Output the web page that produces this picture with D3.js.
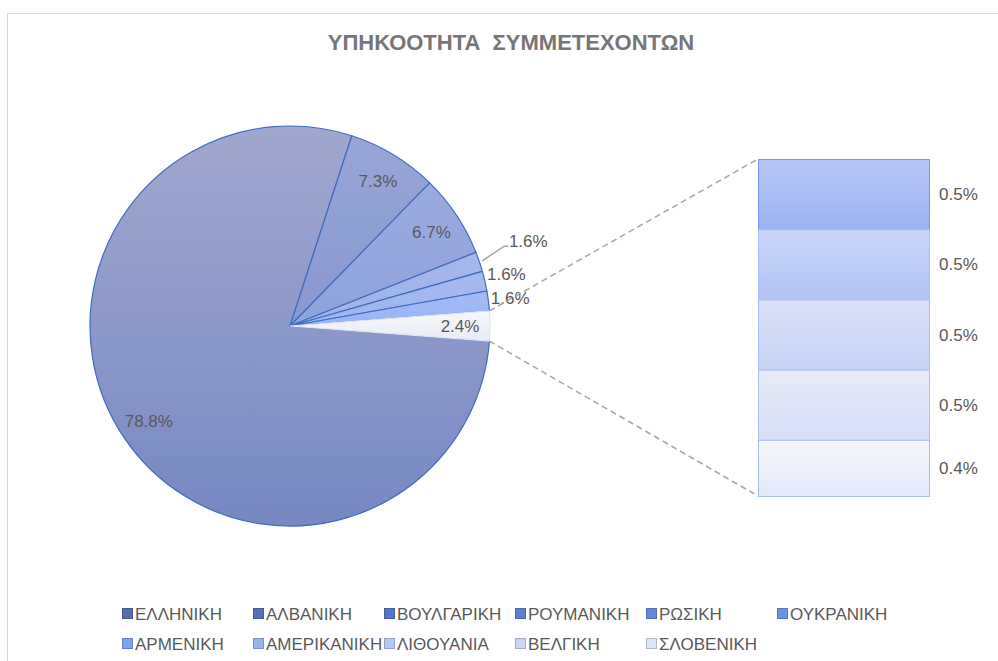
<!DOCTYPE html>
<html>
<head>
<meta charset="utf-8">
<script src="https://cdnjs.cloudflare.com/ajax/libs/d3/7.8.5/d3.min.js"></script>
<style>
  body { margin:0; background:#fff; }
  svg text { font-family: "Liberation Sans", Arial, sans-serif; }
</style>
</head>
<body>
<div class="svg-container"></div>
<script>
//data
const pieNames = ['ΕΛΛΗΝΙΚΗ','ΑΛΒΑΝΙΚΗ','ΒΟΥΛΓΑΡΙΚΗ','ΡΟΥΜΑΝΙΚΗ','ΡΩΣΙΚΗ','ΟΥΚΡΑΝΙΚΗ'];
const pieValues = [78.8, 7.3, 6.7, 1.6, 1.6, 1.6];
const barNames = ['ΑΡΜΕΝΙΚΗ','ΑΜΕΡΙΚΑΝΙΚΗ','ΛΙΘΟΥΑΝΙΑ','ΒΕΛΓΙΚΗ','ΣΛΟΒΕΝΙΚΗ'];
const barValues = [0.5, 0.5, 0.5, 0.5, 0.4];
const otherValue = 2.4;
const title = 'ΥΠΗΚΟΟΤΗΤΑ  ΣΥΜΜΕΤΕΧΟΝΤΩΝ';

//colours (top, bottom of gradient)
const pieColors = [['#a1a8cf','#7788c2'],['#98a6d6','#8797d0'],['#9babdf','#8ea2dc'],
                   ['#a6b8ea','#9fb3e8'],['#a6baef','#9db5ee'],['#a2bcf6','#97b4f5']];
const otherColor = ['#f8f8fc','#e8ebf5'];
const barColors = [['#b7c6f5','#9cb4f5'],['#c9d4f7','#b2c4f5'],['#dae1f8','#c6d3f6'],
                   ['#e8ebf8','#d6dff7'],['#f5f6fb','#e2e8f7']];
const legendColors = ['#5b6eab','#5870b6','#5477c9','#5a80d4','#6389dc','#6b93e6',
                      '#7fa2ec','#99b3f0','#b4c6f2','#cbd6f4','#dfe6f6'];

const width = 998, height = 661;
const cx = 290, cy = 326, R = 200;
const labelColor = '#595959';
const fs = 17;

const svg = d3.select('.svg-container').append('svg')
    .attr('width', width).attr('height', height);

//chart border
svg.append('rect')
    .attr('x', 7.5).attr('y', 13.5)
    .attr('width', width + 20).attr('height', height + 20)
    .attr('fill', '#fff').attr('stroke', '#d9d9d9');

const defs = svg.append('defs');
function grad(id, c) {
    const g = defs.append('linearGradient').attr('id', id)
        .attr('x1', 0).attr('y1', 0).attr('x2', 0).attr('y2', 1);
    g.append('stop').attr('offset', '0%').attr('stop-color', c[0]);
    g.append('stop').attr('offset', '100%').attr('stop-color', c[1]);
    return `url(#${id})`;
}

//title
svg.append('text')
    .attr('x', 511).attr('y', 50)
    .attr('text-anchor', 'middle')
    .attr('font-size', 22).attr('font-weight', 'bold')
    .attr('fill', '#767676')
    .style('white-space', 'pre')
    .text(title);

//pie - the "other" slice is centred at 3 o'clock
const allPie = pieValues.concat([otherValue]);
const total = d3.sum(allPie);
const otherAngle = otherValue / total * 2 * Math.PI;
const start = Math.PI / 2 + otherAngle / 2;

const pie = d3.pie().sort(null).startAngle(start).endAngle(start + 2 * Math.PI);
const arcs = pie(allPie);
const arc = d3.arc().innerRadius(0).outerRadius(R);

const gPie = svg.append('g').attr('transform', `translate(${cx},${cy})`);

gPie.selectAll('.slice')
    .data(arcs)
    .join('path')
    .attr('class', 'slice')
    .attr('d', arc)
    .attr('fill', (d, i) => i < pieValues.length ? grad('pg' + i, pieColors[i]) : grad('pgo', otherColor))
    .attr('stroke', (d, i) => i < pieValues.length ? '#3f6cc0' : '#dfe4f4')
    .attr('stroke-width', 1.2)
    .attr('stroke-linejoin', 'round');

//labels inside the big slices
const inArc = d3.arc().innerRadius(R * 0.85).outerRadius(R * 0.85);
const fmt = v => v.toFixed(1) + '%';

arcs.forEach((d, i) => {
    const v = allPie[i];
    if (v >= 2) {
        const [x, y] = inArc.centroid(d);
        gPie.append('text')
            .attr('x', x).attr('y', y + 6)
            .attr('text-anchor', 'middle')
            .attr('font-size', fs).attr('fill', labelColor)
            .text(fmt(v));
    }
});

//small slices: labels outside, pushed up when they collide
const outArc = d3.arc().innerRadius(R + 22).outerRadius(R + 22);
const small = arcs.map((d, i) => ({ d, v: allPie[i] })).filter(e => e.v < 2).reverse();
let prevY = null;
small.forEach(e => {
    let [x, y] = outArc.centroid(e.d);
    const y0 = y;
    if (prevY !== null && prevY - y < 24) y = prevY - 24;
    let leader = false;
    if (y0 - y > 4) {
        // big push: move clear and hang it on a leader line
        y = prevY - 33; x += 28; leader = true;
    }
    prevY = y;
    gPie.append('text')
        .attr('x', x).attr('y', y + 6)
        .attr('text-anchor', 'middle')
        .attr('font-size', fs).attr('fill', labelColor)
        .text(fmt(e.v));
    if (leader) {
        const a = (e.d.startAngle + e.d.endAngle) / 2;
        const lx = x - 20;
        gPie.append('polyline')
            .attr('points', [[Math.sin(a) * (R + 3), -Math.cos(a) * (R + 3)], [lx - 4, y + 5], [lx, y + 5]].join(' '))
            .attr('fill', 'none').attr('stroke', '#a6a6a6').attr('stroke-width', 1.5);
    }
});

//bar of pie
const barX = 758, barW = 171, barTop = 159, barBottom = 496;
const yBar = d3.scaleLinear().domain([0, d3.sum(barValues)]).range([barTop, barBottom]);
const cum = d3.cumsum(barValues);
const segs = barValues.map((v, i) => ({ name: barNames[i], v, y0: cum[i] - v, y1: cum[i] }));

//connector lines
const oa = arcs[arcs.length - 1];
const p0 = [cx + Math.sin(oa.startAngle) * R, cy - Math.cos(oa.startAngle) * R];
const p1 = [cx + Math.sin(oa.endAngle) * R, cy - Math.cos(oa.endAngle) * R];
svg.selectAll('.connector')
    .data([[p0, [barX, barTop]], [p1, [barX, barBottom]]])
    .join('line')
    .attr('class', 'connector')
    .attr('x1', d => d[0][0]).attr('y1', d => d[0][1])
    .attr('x2', d => d[1][0]).attr('y2', d => d[1][1])
    .attr('stroke', '#a6a6a6').attr('stroke-width', 1.5)
    .attr('stroke-dasharray', '6,4');

svg.selectAll('.seg')
    .data(segs)
    .join('rect')
    .attr('class', 'seg')
    .attr('x', barX + 0.5)
    .attr('y', d => yBar(d.y0) + 0.5)
    .attr('width', barW)
    .attr('height', d => yBar(d.y1) - yBar(d.y0))
    .attr('fill', (d, i) => grad('bg' + i, barColors[i]))
    .attr('stroke', (d, i) => i === 0 ? '#6f98ee' : '#a9bff3')
    .attr('stroke-width', 1);

svg.selectAll('.seg-label')
    .data(segs)
    .join('text')
    .attr('class', 'seg-label')
    .attr('x', barX + barW + 10)
    .attr('y', d => (yBar(d.y0) + yBar(d.y1)) / 2 + 6)
    .attr('font-size', fs).attr('fill', labelColor)
    .text(d => fmt(d.v));

//legend
const legendNames = pieNames.concat(barNames);
const perRow = 6, colW = 131, legX = 122, legY = 614, rowH = 30;
const leg = svg.selectAll('.legend')
    .data(legendNames)
    .join('g')
    .attr('class', 'legend')
    .attr('transform', (d, i) => `translate(${legX + (i % perRow) * colW},${legY + Math.floor(i / perRow) * rowH})`);

leg.append('rect')
    .attr('x', 0.5).attr('y', -5.5)
    .attr('width', 10).attr('height', 10)
    .attr('fill', (d, i) => legendColors[i])
    .attr('stroke', (d, i) => d3.color(legendColors[i]).darker(0.6))
    .attr('stroke-width', 1);

leg.append('text')
    .attr('x', 13).attr('y', 6)
    .attr('font-size', fs).attr('fill', labelColor)
    .text(d => d);
</script>
</body>
</html>
